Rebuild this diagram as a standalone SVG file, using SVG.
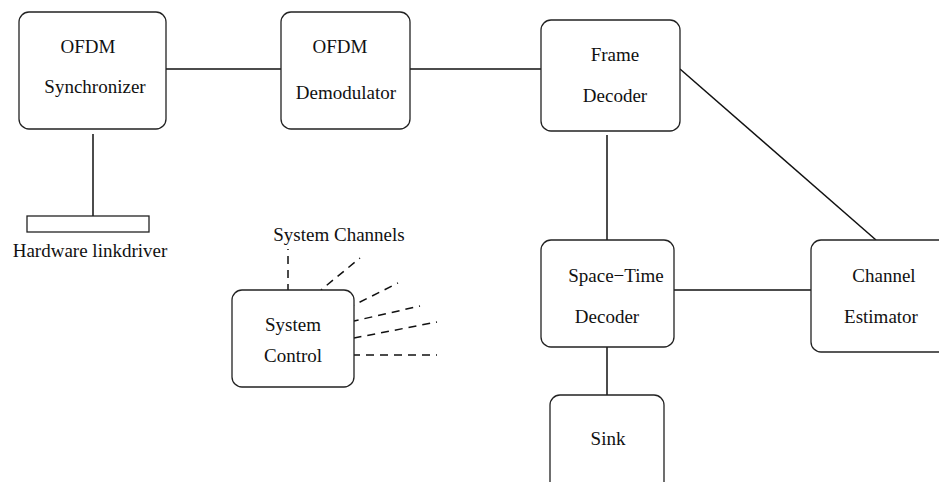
<svg xmlns="http://www.w3.org/2000/svg" width="939" height="482" viewBox="0 0 939 482">
<style>
.box{fill:#fff;stroke:#222;stroke-width:1.3}
.ln{stroke:#111;stroke-width:1.5;fill:none}
.dash{stroke:#111;stroke-width:1.5;fill:none;stroke-dasharray:8 6;stroke-dashoffset:7}
text{font-family:"Liberation Serif","Times New Roman",serif;font-size:19px;fill:#111;text-anchor:middle}
</style>
<rect width="939" height="482" fill="#fff"/>
<g id="connectors">
<line class="ln" x1="166" y1="69" x2="281" y2="69"/>
<line class="ln" x1="410" y1="69" x2="542" y2="69"/>
<line class="ln" x1="93" y1="134" x2="93" y2="216"/>
<line class="ln" x1="607" y1="135" x2="607" y2="240"/>
<line class="ln" x1="680" y1="69" x2="876" y2="240"/>
<line class="ln" x1="673" y1="290" x2="811" y2="290"/>
<line class="ln" x1="607" y1="347" x2="607" y2="395"/>
<line class="dash" x1="288" y1="249" x2="288" y2="290"/>
<line class="dash" x1="360" y1="258" x2="321" y2="290"/>
<line class="dash" x1="398" y1="283" x2="354" y2="305"/>
<line class="dash" x1="420" y1="306" x2="354" y2="321"/>
<line class="dash" x1="437" y1="322" x2="354" y2="338"/>
<line class="dash" x1="437" y1="355" x2="354" y2="355"/>
</g>
<g id="ofdm-sync">
<rect class="box" x="19" y="12" width="147" height="117" rx="10"/>
<text x="88" y="53">OFDM</text>
<text x="95" y="93">Synchronizer</text>
</g>
<g id="ofdm-demod">
<rect class="box" x="281" y="12" width="129" height="117" rx="10"/>
<text x="340" y="53">OFDM</text>
<text x="346" y="99">Demodulator</text>
</g>
<g id="frame-decoder">
<rect class="box" x="541" y="20" width="139" height="111" rx="10"/>
<text x="615" y="61">Frame</text>
<text x="615" y="102">Decoder</text>
</g>
<g id="hardware-linkdriver">
<rect class="box" x="27" y="216" width="122" height="16"/>
<text x="90" y="257">Hardware linkdriver</text>
</g>
<g id="system-control">
<rect class="box" x="232" y="290" width="122" height="97" rx="10"/>
<text x="293" y="331">System</text>
<text x="293" y="362">Control</text>
</g>
<g id="system-channels">
<text x="339" y="241">System Channels</text>
</g>
<g id="space-time-decoder">
<rect class="box" x="541" y="240" width="133" height="107" rx="10"/>
<text x="616" y="282">Space−Time</text>
<text x="607" y="323">Decoder</text>
</g>
<g id="channel-estimator">
<rect class="box" x="811" y="240" width="140" height="112" rx="10"/>
<text x="884" y="282">Channel</text>
<text x="881" y="323">Estimator</text>
</g>
<g id="sink">
<rect class="box" x="550" y="395" width="114" height="100" rx="10"/>
<text x="608" y="445">Sink</text>
</g>
</svg>
